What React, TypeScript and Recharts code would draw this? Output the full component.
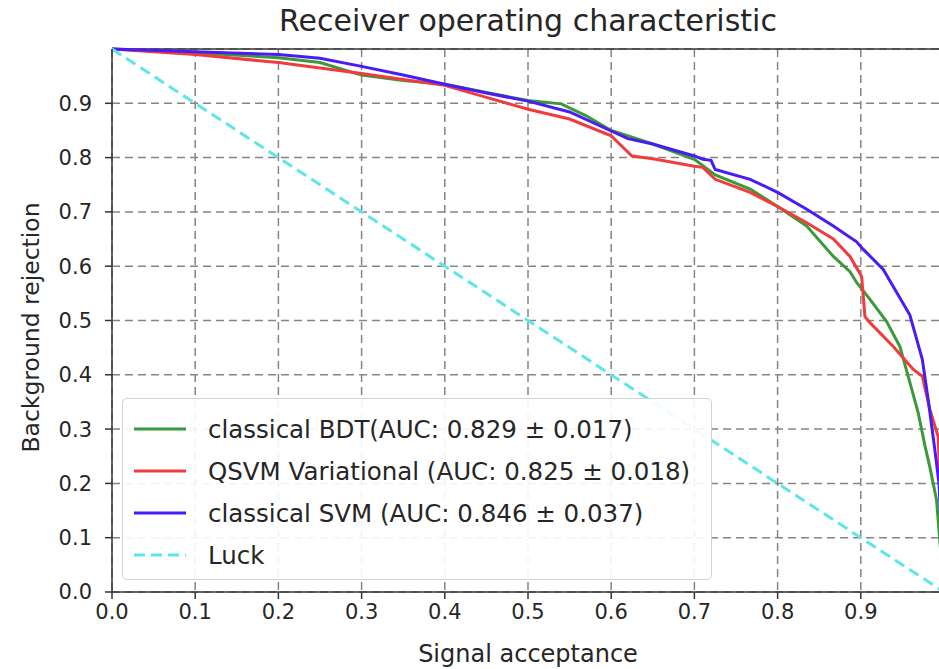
import {
  LineChart,
  Line,
  XAxis,
  YAxis,
  CartesianGrid,
  Legend,
  ReferenceLine,
} from "recharts";

const axisTicks = [0, 0.1, 0.2, 0.3, 0.4, 0.5, 0.6, 0.7, 0.8, 0.9];

// classical BDT
const bdtAcceptance = [
  0, 0.1, 0.2, 0.25, 0.3, 0.35, 0.4, 0.45, 0.5, 0.54, 0.57, 0.6, 0.65, 0.7,
  0.725, 0.767, 0.8, 0.835, 0.867, 0.887, 0.895, 0.911, 0.931, 0.947, 0.957,
  0.969, 0.977, 0.983, 0.991, 1.0,
];
const bdtRejection = [
  1.0, 0.993, 0.984, 0.975, 0.952, 0.942, 0.935, 0.92, 0.905, 0.899, 0.877,
  0.85, 0.825, 0.797, 0.768, 0.742, 0.71, 0.674, 0.618, 0.59, 0.57, 0.539,
  0.498, 0.452, 0.397, 0.33, 0.27, 0.23, 0.17, 0.0,
];

// QSVM Variational
const qsvmAcceptance = [
  0, 0.1, 0.2, 0.25, 0.3, 0.35, 0.4, 0.45, 0.5, 0.55, 0.6, 0.61, 0.625, 0.65,
  0.7, 0.71, 0.725, 0.767, 0.8, 0.835, 0.867, 0.887, 0.901, 0.905, 0.911,
  0.939, 0.963, 0.974, 0.983, 0.993, 1.0,
];
const qsvmRejection = [
  1.0, 0.99, 0.975, 0.965, 0.955, 0.944, 0.933, 0.911, 0.889, 0.871, 0.84,
  0.825, 0.803, 0.798, 0.784, 0.782, 0.76, 0.736, 0.71, 0.68, 0.65, 0.618,
  0.581, 0.507, 0.496, 0.452, 0.41, 0.397, 0.336, 0.286, 0.0,
];

// classical SVM
const svmAcceptance = [
  0, 0.1, 0.2, 0.25, 0.3, 0.35, 0.4, 0.45, 0.5, 0.55, 0.6, 0.62, 0.65, 0.7,
  0.71, 0.72, 0.725, 0.767, 0.8, 0.835, 0.867, 0.895, 0.903, 0.927, 0.959,
  0.974, 0.981, 0.989, 0.994, 1.0,
];
const svmRejection = [
  1.0, 0.995, 0.99, 0.983, 0.968, 0.952, 0.935, 0.919, 0.904, 0.884, 0.849,
  0.835, 0.825, 0.803, 0.797, 0.795, 0.778, 0.76, 0.736, 0.705, 0.674, 0.645,
  0.631, 0.594, 0.51, 0.428, 0.354, 0.262, 0.2, 0.0,
];

// Luck diagonal
const luckAcceptance = [0, 1];
const luckRejection = [1, 0];

const toPoints = (xs: number[], ys: number[]) =>
  xs.map((x, i) => ({ x, y: ys[i] }));

const series = [
  {
    name: "classical BDT(AUC: 0.829 \u00b1 0.017)",
    color: "#3a9a3a",
    data: toPoints(bdtAcceptance, bdtRejection),
  },
  {
    name: "QSVM Variational (AUC: 0.825 \u00b1 0.018)",
    color: "#f03c3c",
    data: toPoints(qsvmAcceptance, qsvmRejection),
  },
  {
    name: "classical SVM (AUC: 0.846 \u00b1 0.037)",
    color: "#4a1cf5",
    data: toPoints(svmAcceptance, svmRejection),
  },
  {
    name: "Luck",
    color: "#5ee6e6",
    dash: "11 6",
    data: toPoints(luckAcceptance, luckRejection),
  },
];

const textColor = "#262626";
const spine = "#333";
const fmt = (v: number) => v.toFixed(1);

// legend keeps the plotting order (recharts would sort its payload)
function RocLegend() {
  return (
    <div
      style={{
        width: 590,
        height: 182,
        boxSizing: "border-box",
        border: "1.5px solid #d2d2d2",
        borderRadius: 5,
        background: "rgba(255,255,255,0.9)",
        padding: "9px 0 0 10px",
      }}
    >
      {series.map((s) => (
        <div
          key={s.name}
          style={{ display: "flex", alignItems: "center", height: 42 }}
        >
          <svg width={54} height={10}>
            <line
              x1={1}
              x2={53}
              y1={5}
              y2={5}
              stroke={s.color}
              strokeWidth={3}
              strokeDasharray={s.dash}
            />
          </svg>
          <span
            style={{
              marginLeft: 21,
              fontSize: 24.5,
              color: textColor,
              whiteSpace: "nowrap",
            }}
          >
            {s.name}
          </span>
        </div>
      ))}
    </div>
  );
}

export default function App() {
  return (
    <div
      style={{
        position: "absolute",
        left: 0,
        top: 0,
        width: 939,
        height: 669,
        overflow: "hidden",
        background: "#fff",
        fontFamily: '"DejaVu Sans", sans-serif',
      }}
    >
      <div
        style={{
          position: "absolute",
          left: 112,
          width: 832,
          top: 3,
          textAlign: "center",
          fontSize: 30,
          color: textColor,
          whiteSpace: "nowrap",
        }}
      >
        Receiver operating characteristic
      </div>
      <LineChart
        width={960}
        height={669}
        margin={{ top: 49, right: 16, bottom: 7, left: 42 }}
      >
        <CartesianGrid
          stroke="#858585"
          strokeWidth={1.5}
          strokeDasharray="8 5"
        />
        <XAxis
          type="number"
          dataKey="x"
          domain={[0, 1]}
          ticks={axisTicks}
          tickFormatter={fmt}
          height={70}
          tickSize={7}
          tickMargin={5}
          axisLine={{ stroke: spine, strokeWidth: 1.5 }}
          tickLine={{ stroke: spine, strokeWidth: 1.5 }}
          tick={{ fill: textColor, fontSize: 21 }}
          label={{
            value: "Signal acceptance",
            position: "insideBottom",
            offset: 0,
            fill: textColor,
            fontSize: 24,
          }}
        />
        <YAxis
          type="number"
          dataKey="y"
          domain={[0, 1]}
          ticks={axisTicks}
          tickFormatter={fmt}
          width={70}
          tickSize={7}
          tickMargin={13}
          axisLine={{ stroke: spine, strokeWidth: 1.5 }}
          tickLine={{ stroke: spine, strokeWidth: 1.5 }}
          tick={{ fill: textColor, fontSize: 21 }}
          label={{
            content: (props: any) => {
              const vb = props.viewBox || { x: 42, y: 49, height: 543 };
              const cx = vb.x - 11;
              const cy = vb.y + vb.height / 2 + 7;
              return (
                <text
                  x={cx}
                  y={cy}
                  transform={`rotate(-90 ${cx} ${cy})`}
                  textAnchor="middle"
                  dominantBaseline="central"
                  fill={textColor}
                  fontSize={23.5}
                >
                  Background rejection
                </text>
              );
            },
          }}
        />
        <ReferenceLine y={1} stroke={spine} strokeWidth={1.5} />
        <ReferenceLine x={1} stroke={spine} strokeWidth={1.5} />
        {series.map((s) => (
          <Line
            key={s.name}
            name={s.name}
            data={s.data}
            dataKey="y"
            type="linear"
            stroke={s.color}
            strokeWidth={3}
            strokeDasharray={s.dash}
            dot={false}
            activeDot={false}
            isAnimationActive={false}
          />
        ))}
        <Legend
          layout="vertical"
          align="center"
          verticalAlign="middle"
          content={<RocLegend />}
          wrapperStyle={{ left: 122, top: 398, width: 590, height: 182 }}
        />
      </LineChart>
    </div>
  );
}
